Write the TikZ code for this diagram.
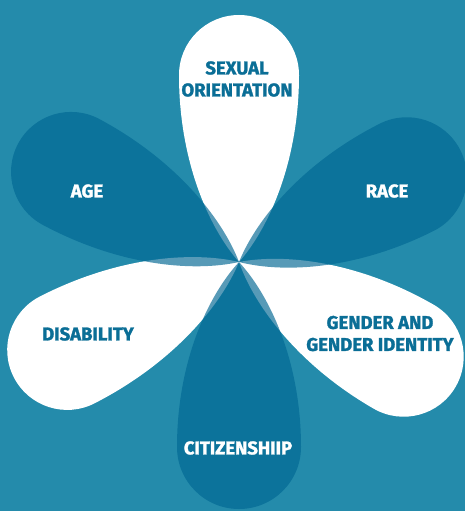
\documentclass[tikz,border=0pt]{standalone}
\usepackage{fontspec}
\setmainfont{Fira Sans}[BoldFeatures={FakeBold=1.4}]
\definecolor{bgteal}{RGB}{36,139,171}
\definecolor{petaldark}{RGB}{0,103,147}
\definecolor{textdark}{RGB}{10,110,150}
\tikzset{
	whitepetal/.style={fill=white},
	darkpetal/.style={fill=petaldark, fill opacity=0.66},
	label/.style={inner sep=0pt, align=center, font=\fontsize{18.5}{22}\selectfont\bfseries},
	darklabel/.style={label, text=textdark},
	lightlabel/.style={label, text=white}
}
% petal: angle, length (tip to round end), radius, style
\newcommand{\petal}[4]{%
	\fill[#4, shift={(239,262)}, rotate=#1] (0,0)
		.. controls ({0.19*#2},{0.52*#3}) and ({0.55*#2},#3) .. (#2,#3)
		arc[start angle=90, end angle=-90, radius=#3]
		.. controls ({0.55*#2},{-#3}) and ({0.19*#2},{-0.52*#3}) .. (0,0) -- cycle;
}
\begin{document}
\begin{tikzpicture}[x=1pt,y=-1pt]
	\useasboundingbox (0,0) rectangle (465,511);
	\fill[bgteal] (0,0) rectangle (465,511);
	\clip (0,0) rectangle (465,511);

	\petal{90}{187}{60}{whitepetal}
	\petal{-29.9}{190}{60}{whitepetal}
	\petal{207.1}{193}{60}{whitepetal}

	\petal{26.8}{188}{60}{darkpetal}
	\petal{-90}{185}{62}{darkpetal}
	\petal{151.8}{190.6}{60}{darkpetal}

	\node[darklabel] (sexual) at (237,79) {SEXUAL\\ORIENTATION};
	\node[lightlabel] (age) at (87,191) {AGE};
	\node[lightlabel] (race) at (387,191) {RACE};
	\node[darklabel] (disability) at (88,334) {DISABILITY};
	\node[darklabel] (gender) at (380,333.5) {GENDER AND\\GENDER IDENTITY};
	\node[lightlabel] (citizen) at (238,448) {CITIZENSHIIP};
\end{tikzpicture}
\end{document}
